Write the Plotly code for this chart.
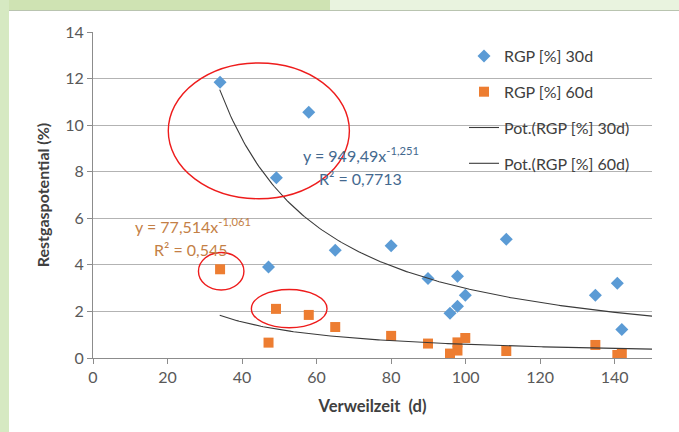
import numpy as np
import plotly.graph_objects as go

# ---------------- data ----------------
x_30d = [34.1, 57.9, 49.2, 65.0, 47.1, 80.0, 110.9, 89.9, 97.8, 99.9, 97.8, 95.8, 134.8, 140.7, 141.9]
y_30d = [11.84, 10.55, 7.74, 4.63, 3.91, 4.82, 5.10, 3.41, 3.51, 2.70, 2.22, 1.92, 2.70, 3.21, 1.22]

x_60d = [34.1, 49.1, 57.9, 65.0, 47.1, 80.0, 89.9, 97.8, 99.9, 97.8, 95.8, 110.9, 134.8, 140.7, 141.9]
y_60d = [3.81, 2.11, 1.85, 1.33, 0.66, 0.95, 0.62, 0.67, 0.86, 0.32, 0.19, 0.30, 0.56, 0.13, 0.19]

# power trendline coefficients (as displayed)
a_30d, b_30d = 949.49, -1.251
a_60d, b_60d = 77.514, -1.061
trend_x_start, trend_x_end = 34, 150

x_ticks = [0, 20, 40, 60, 80, 100, 120, 140]
y_ticks = [0, 2, 4, 6, 8, 10, 12, 14]

series_names = ["RGP [%] 30d", "RGP [%] 60d", "Pot.(RGP [%] 30d)", "Pot.(RGP [%] 60d)"]
eq_30d = ["y = 949,49x<sup>-1,251</sup>", "R² = 0,7713"]
eq_60d = ["y = 77,514x<sup>-1,061</sup>", "R² = 0,545"]

# red highlight ellipses (data coords: x0, x1, y0, y1)
ellipses = [(20.2, 68.8, 6.84, 12.67), (28.3, 40.5, 2.92, 4.53), (42.5, 62.8, 1.30, 2.94)]

# ---------------- figure ----------------
W, H = 679, 432
L, R, T, B = 93, 27, 32, 74
pw, ph = W - L - R, H - T - B

def px(xp):
    return (xp - L) / pw

def py(yp):
    return (H - B - yp) / ph

FONT = "Lato"
BLUE = "#5B9BD5"
ORANGE = "#ED7D31"

tx = np.linspace(trend_x_start, trend_x_end, 200)

fig = go.Figure()
fig.add_trace(go.Scatter(x=x_30d, y=y_30d, mode="markers", name=series_names[0],
                         legendgroup="a",
                         marker=dict(symbol="diamond", size=10, color=BLUE)))
fig.add_trace(go.Scatter(x=x_60d, y=y_60d, mode="markers", name=series_names[1],
                         legendgroup="b",
                         marker=dict(symbol="square", size=10, color=ORANGE)))
fig.add_trace(go.Scatter(x=tx, y=a_30d * tx ** b_30d, mode="lines", name=series_names[2],
                         legendgroup="c",
                         line=dict(color="#3a3a3a", width=1.1)))
fig.add_trace(go.Scatter(x=tx, y=a_60d * tx ** b_60d, mode="lines", name=series_names[3],
                         legendgroup="d",
                         line=dict(color="#3a3a3a", width=1.1)))

shapes = []
# background decoration: green strips outside the white panel
shapes.append(dict(type="rect", xref="paper", yref="paper", x0=px(0), x1=px(W), y0=py(10), y1=py(0),
                   fillcolor="#e9f3df", line=dict(width=0), layer="below"))
shapes.append(dict(type="rect", xref="paper", yref="paper", x0=px(0), x1=px(330), y0=py(10), y1=py(0),
                   fillcolor="#cfe3b3", line=dict(width=0), layer="below"))
shapes.append(dict(type="rect", xref="paper", yref="paper", x0=px(0), x1=px(9), y0=py(H), y1=py(0),
                   fillcolor="#d6e9c2", line=dict(width=0), layer="below"))
shapes.append(dict(type="line", xref="paper", yref="paper", x0=px(9), x1=px(W), y0=py(10.5), y1=py(10.5),
                   line=dict(color="#b9c4b0", width=1), layer="below"))
# legend area background (hides gridlines behind the legend)
shapes.append(dict(type="rect", xref="paper", yref="paper", x0=px(457), x1=px(653), y0=py(188), y1=py(36),
                   fillcolor="white", line=dict(width=0), layer="between"))
for (ex0, ex1, ey0, ey1) in ellipses:
    shapes.append(dict(type="circle", xref="x", yref="y", x0=ex0, x1=ex1, y0=ey0, y1=ey1,
                       line=dict(color="#ee1c1c", width=1.4), layer="above"))

annotations = [
    dict(x=71.9, y=8.72, text=eq_30d[0], font=dict(color="#44698f", size=16, family=FONT)),
    dict(x=71.8, y=7.73, text=eq_30d[1], font=dict(color="#44698f", size=16, family=FONT)),
    dict(x=26.7, y=5.67, text=eq_60d[0], font=dict(color="#c47f46", size=16, family=FONT)),
    dict(x=26.4, y=4.68, text=eq_60d[1], font=dict(color="#c47f46", size=16, family=FONT)),
]
for a in annotations:
    a.update(xref="x", yref="y", showarrow=False, xanchor="center", yanchor="middle")

fig.update_layout(
    width=W, height=H,
    margin=dict(l=L, r=R, t=T, b=B, pad=0),
    paper_bgcolor="white", plot_bgcolor="white",
    font=dict(family=FONT, size=14, color="#595959"),
    shapes=shapes, annotations=annotations,
    legend=dict(x=px(464), y=py(39), xanchor="left", yanchor="top",
                bgcolor="rgba(255,255,255,0)", tracegroupgap=12,
                font=dict(family=FONT, size=16, color="#404040"),
                itemwidth=30),
    showlegend=True,
)
fig.update_xaxes(range=[0, 150], tickvals=x_ticks, showgrid=False, zeroline=False,
                 showline=True, linecolor="#8c8c8c", linewidth=1,
                 ticks="outside", ticklen=5, tickcolor="#8c8c8c",
                 tickfont=dict(size=16, color="#595959"),
                 title=dict(text="<b>Verweilzeit  (d)</b>", font=dict(size=16.5, color="#404040"), standoff=15))
fig.update_yaxes(range=[0, 14], tickvals=y_ticks, showgrid=True, gridcolor="#b3b3b3", gridwidth=1,
                 zeroline=False, showline=True, linecolor="#8c8c8c", linewidth=1,
                 ticks="outside", ticklen=5, tickcolor="#8c8c8c",
                 tickfont=dict(size=16, color="#595959"),
                 title=dict(text="<b>Restgaspotential (%)</b>", font=dict(size=16, color="#404040"), standoff=11))

fig.write_html("out.html", config={"displayModeBar": False},
               post_script="document.body.style.margin='0';document.body.style.overflow='hidden';")
